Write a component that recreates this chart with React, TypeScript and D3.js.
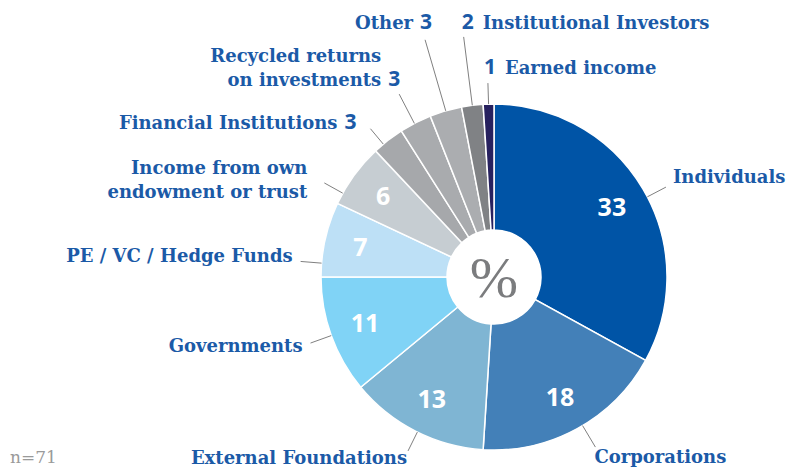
import React from "react";
import * as d3 from "d3";

// 자금 출처 (단위 %)
const categories = [
  "Individuals",
  "Corporations",
  "External Foundations",
  "Governments",
  "PE / VC / Hedge Funds",
  "Income from own endowment or trust",
  "Financial Institutions",
  "Recycled returns on investments",
  "Other",
  "Institutional Investors",
  "Earned income",
];
const values = [33, 18, 13, 11, 7, 6, 3, 3, 3, 2, 1];
const sliceColors = [
  "#0054a6",
  "#4380b8",
  "#7fb5d3",
  "#80d3f6",
  "#bde0f6",
  "#c6cdd2",
  "#a6a8ab",
  "#a9abae",
  "#abadb0",
  "#808285",
  "#27215f",
];
const sampleNote = "n=71";

// 라벨 배치 (지시선 각도 보정, 길이, 텍스트 오프셋)
type LabelLayout = {
  lines: string[];
  num: "inside" | "after" | "before";
  angOff: number;
  lr: number;
  anchor: "start" | "end";
  dx: number;
  dy: number;
};
const labelLayout: LabelLayout[] = [
  { lines: ["Individuals"], num: "inside", angOff: 3, lr: 194, anchor: "start", dx: 7, dy: -4 },
  { lines: ["Corporations"], num: "inside", angOff: -2, lr: 198, anchor: "start", dx: -1, dy: 16 },
  { lines: ["External Foundations"], num: "inside", angOff: -0.7, lr: 194, anchor: "end", dx: -1, dy: 13 },
  { lines: ["Governments"], num: "inside", angOff: 0, lr: 195, anchor: "end", dx: -8, dy: 9 },
  { lines: ["PE / VC / Hedge Funds"], num: "inside", angOff: -8, lr: 194, anchor: "end", dx: -8, dy: 1 },
  { lines: ["Income from own", "endowment or trust"], num: "inside", angOff: -7, lr: 194, anchor: "end", dx: -17, dy: -9 },
  { lines: ["Financial Institutions"], num: "after", angOff: -2, lr: 193, anchor: "end", dx: -33, dy: 0 },
  { lines: ["Recycled returns", "on investments"], num: "after", angOff: -0.4, lr: 206, anchor: "end", dx: -18, dy: -32 },
  { lines: ["Other"], num: "after", angOff: 0, lr: 247, anchor: "end", dx: -12, dy: -11 },
  { lines: ["Institutional Investors"], num: "before", angOff: 0, lr: 242, anchor: "start", dx: -2, dy: -8 },
  { lines: ["Earned income"], num: "before", angOff: 0, lr: 194, anchor: "start", dx: -4, dy: -9 },
];

const width = 792;
const height = 468;
const cx = 494;
const cy = 277;
const outerR = 173;
const innerR = 47;
const labelBlue = "#1b5aa7";
const serif = "'DejaVu Serif', serif";
const sans = "'Open Sans', sans-serif";

const polar = (a: number, r: number): [number, number] => [
  r * Math.sin(a),
  -r * Math.cos(a),
];

export default function App() {
  const data = values.map((v, i) => ({ name: categories[i], value: v, i }));
  const pie = d3
    .pie<{ name: string; value: number; i: number }>()
    .sort(null)
    .value((d) => d.value);
  const arcs = pie(data);

  const arc = d3
    .arc<d3.PieArcDatum<{ name: string; value: number; i: number }>>()
    .innerRadius(innerR)
    .outerRadius(outerR);
  const numArc = d3
    .arc<d3.PieArcDatum<{ name: string; value: number; i: number }>>()
    .innerRadius(137)
    .outerRadius(137);

  const lineH = 24;

  return (
    <svg
      width={width}
      height={height}
      style={{ position: "absolute", left: 0, top: 0, display: "block", background: "#fff" }}
    >
      <g transform={`translate(${cx},${cy})`}>
        {arcs.map((a) => (
          <path
            key={a.data.name}
            d={arc(a) || ""}
            fill={sliceColors[a.data.i]}
            stroke="#fff"
            strokeWidth={1.5}
          />
        ))}
        <circle r={innerR} fill="#fff" />
        <text
          x={0}
          y={0}
          dy="0.34em"
          textAnchor="middle"
          fontFamily="'Liberation Serif', serif"
          fontSize={58}
          fill="#7b7c7e"
        >
          %
        </text>

        {arcs.map((a) => {
          const lay = labelLayout[a.data.i];
          const mid = (a.startAngle + a.endAngle) / 2 + (lay.angOff * Math.PI) / 180;
          const [x0, y0] = polar(mid, outerR);
          const [x1, y1] = polar(mid, lay.lr);
          const tx = x1 + lay.dx;
          const ty = y1 + lay.dy;
          const [nx, ny] = numArc.centroid(a);
          return (
            <g key={"lab" + a.data.name}>
              <line x1={x0} y1={y0} x2={x1} y2={y1} stroke="#808080" strokeWidth={1} />
              {lay.num === "inside" && (
                <text
                  x={nx}
                  y={ny}
                  dy="0.36em"
                  textAnchor="middle"
                  fontFamily={sans}
                  fontWeight="bold"
                  fontSize={25}
                  fill="#fff"
                >
                  {a.data.value}
                </text>
              )}
              {lay.lines.map((ln, k) => (
                <text
                  key={k}
                  x={lay.num === "before" ? tx + 21 : tx}
                  y={ty + k * lineH}
                  textAnchor={lay.anchor}
                  fontFamily={serif}
                  fontWeight="bold"
                  fontSize={18}
                  fill={labelBlue}
                >
                  {ln}
                </text>
              ))}
              {lay.num === "after" && (
                <text
                  x={tx + 7}
                  y={ty + (lay.lines.length - 1) * lineH}
                  textAnchor="start"
                  fontFamily={sans}
                  fontWeight="bold"
                  fontSize={21}
                  fill={labelBlue}
                >
                  {a.data.value}
                </text>
              )}
              {lay.num === "before" && (
                <text
                  x={tx}
                  y={ty}
                  textAnchor="start"
                  fontFamily={sans}
                  fontWeight="bold"
                  fontSize={21}
                  fill={labelBlue}
                >
                  {a.data.value}
                </text>
              )}
            </g>
          );
        })}
      </g>
      <text x={10} y={463} fontFamily={serif} fontSize={17} fill="#9a9a9a">
        {sampleNote}
      </text>
    </svg>
  );
}
